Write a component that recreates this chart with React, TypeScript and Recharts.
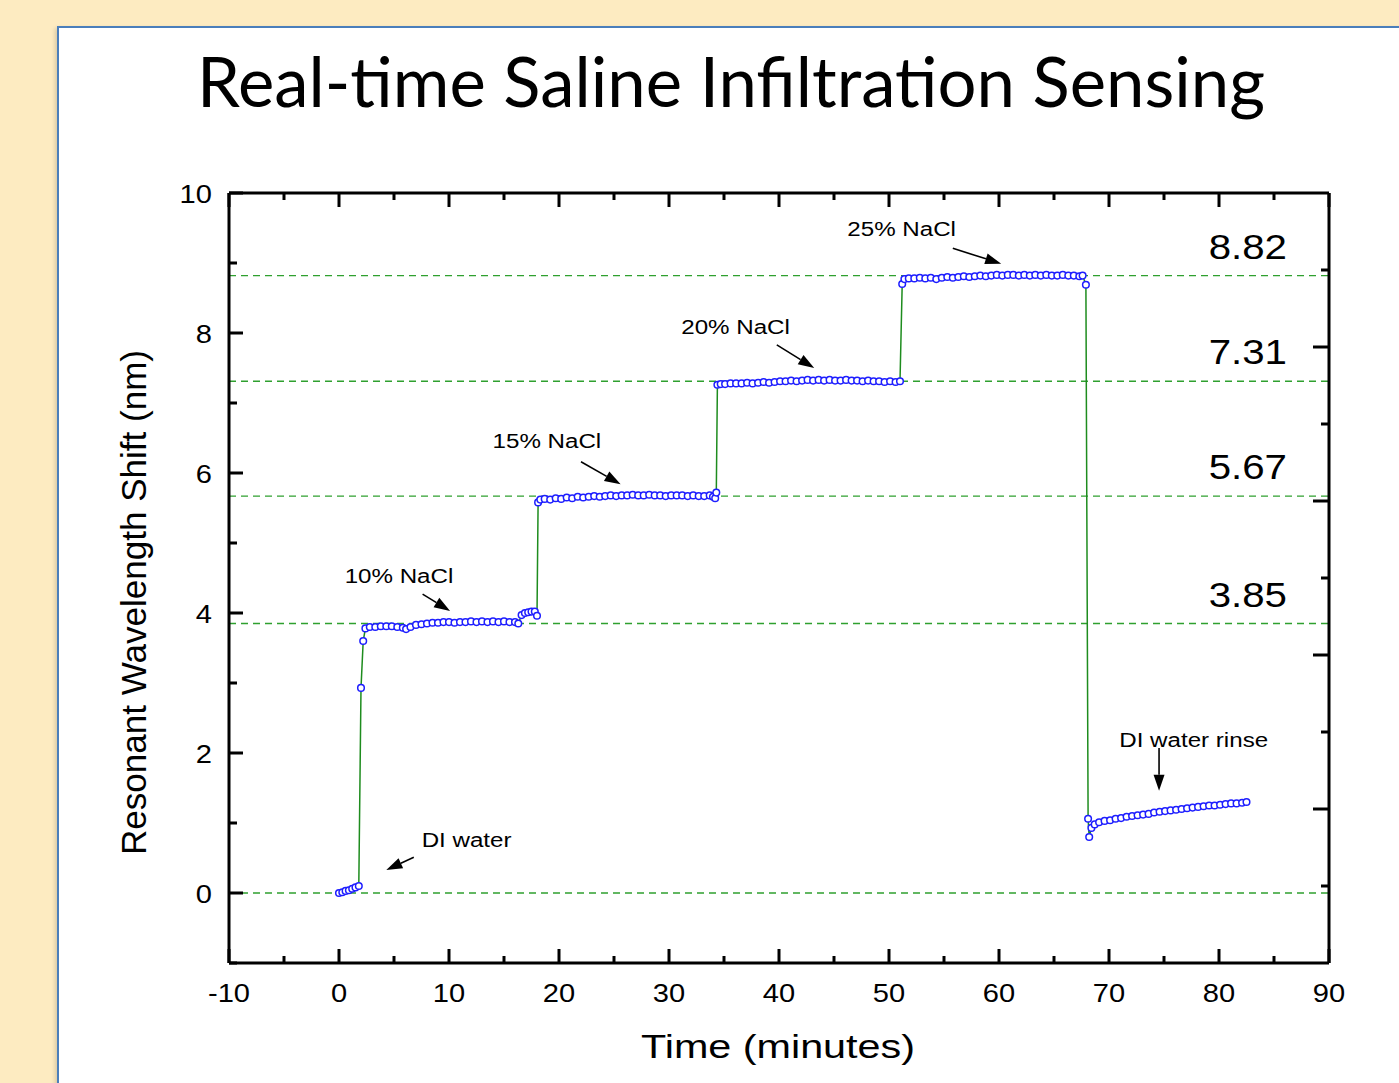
import { ComposedChart, Line, XAxis, YAxis, ReferenceLine, ReferenceDot } from "recharts";

// [time (min), shift (nm)]
const diWater: [number, number][] = [
  [0, 0.0], [0.3, 0.01], [0.6, 0.03], [0.9, 0.04], [1.2, 0.06], [1.5, 0.08], [1.8, 0.1],
];

const nacl10: [number, number][] = [
  [2.0, 2.93], [2.2, 3.6], [2.4, 3.78], [2.8, 3.8], [3.3, 3.8], [3.8, 3.81], [4.3, 3.81],
  [4.8, 3.81], [5.3, 3.8], [5.8, 3.79], [6.1, 3.77], [6.5, 3.8], [7.0, 3.83], [7.5, 3.84],
  [8.0, 3.85], [8.5, 3.86], [9.0, 3.86], [9.5, 3.87], [10.0, 3.87], [10.5, 3.86], [11.0, 3.87],
  [11.5, 3.87], [12.0, 3.88], [12.5, 3.87], [13.0, 3.88], [13.5, 3.87], [14.0, 3.88],
  [14.5, 3.87], [15.0, 3.88], [15.5, 3.87], [16.0, 3.87], [16.3, 3.85], [16.6, 3.97],
  [16.9, 4.0], [17.2, 4.01], [17.5, 4.02], [17.8, 4.02], [18.0, 3.96],
];

const nacl15: [number, number][] = [
  [18.1, 5.58], [18.3, 5.62], [18.7, 5.63], [19.2, 5.62], [19.7, 5.64], [20.2, 5.63],
  [20.7, 5.65], [21.2, 5.64], [21.7, 5.66], [22.2, 5.65], [22.7, 5.66], [23.2, 5.67],
  [23.7, 5.66], [24.2, 5.67], [24.7, 5.68], [25.2, 5.67], [25.7, 5.68], [26.2, 5.68],
  [26.7, 5.69], [27.2, 5.68], [27.7, 5.68], [28.2, 5.69], [28.7, 5.68], [29.2, 5.68],
  [29.7, 5.67], [30.2, 5.68], [30.7, 5.68], [31.2, 5.68], [31.7, 5.67], [32.2, 5.68],
  [32.7, 5.67], [33.2, 5.67], [33.7, 5.68], [34.0, 5.66], [34.2, 5.64], [34.3, 5.72],
];

const nacl20: [number, number][] = [
  [34.4, 7.26], [34.7, 7.27], [35.1, 7.27], [35.6, 7.28], [36.1, 7.28], [36.6, 7.28],
  [37.1, 7.29], [37.6, 7.28], [38.1, 7.29], [38.6, 7.3], [39.1, 7.29], [39.6, 7.3],
  [40.1, 7.31], [40.6, 7.31], [41.1, 7.32], [41.6, 7.31], [42.1, 7.32], [42.6, 7.33],
  [43.1, 7.32], [43.6, 7.33], [44.1, 7.32], [44.6, 7.33], [45.1, 7.32], [45.6, 7.32],
  [46.1, 7.33], [46.6, 7.32], [47.1, 7.32], [47.6, 7.31], [48.1, 7.32], [48.6, 7.31],
  [49.1, 7.31], [49.6, 7.3], [50.1, 7.31], [50.6, 7.3], [51.0, 7.31],
];

const nacl25: [number, number][] = [
  [51.2, 8.7], [51.4, 8.77], [51.8, 8.78], [52.3, 8.78], [52.8, 8.79], [53.3, 8.78],
  [53.8, 8.79], [54.3, 8.77], [54.8, 8.79], [55.3, 8.8], [55.8, 8.79], [56.3, 8.8],
  [56.8, 8.81], [57.3, 8.8], [57.8, 8.81], [58.3, 8.82], [58.8, 8.81], [59.3, 8.82],
  [59.8, 8.83], [60.3, 8.82], [60.8, 8.83], [61.3, 8.83], [61.8, 8.82], [62.3, 8.83],
  [62.8, 8.82], [63.3, 8.83], [63.8, 8.82], [64.3, 8.83], [64.8, 8.82], [65.3, 8.82],
  [65.8, 8.83], [66.3, 8.82], [66.8, 8.82], [67.3, 8.81], [67.6, 8.82], [67.9, 8.69],
];

const rinse: [number, number][] = [
  [68.1, 1.06], [68.2, 0.8], [68.4, 0.93], [68.7, 0.98], [69.1, 1.01], [69.6, 1.03],
  [70.1, 1.04], [70.6, 1.06], [71.1, 1.07], [71.6, 1.09], [72.1, 1.1], [72.6, 1.11],
  [73.1, 1.12], [73.6, 1.13], [74.1, 1.15], [74.6, 1.16], [75.1, 1.17], [75.6, 1.18],
  [76.1, 1.19], [76.6, 1.2], [77.1, 1.21], [77.6, 1.22], [78.1, 1.23], [78.6, 1.24],
  [79.1, 1.25], [79.6, 1.25], [80.1, 1.26], [80.6, 1.27], [81.1, 1.28], [81.6, 1.28],
  [82.1, 1.29], [82.5, 1.3],
];

const xTicks = [-10, -5, 0, 5, 10, 15, 20, 25, 30, 35, 40, 45, 50, 55, 60, 65, 70, 75, 80, 85, 90];
const yTicks = [-1, 0, 1, 2, 3, 4, 5, 6, 7, 8, 9, 10];
const rightTicks = [0.1, 1.2, 2.3, 3.4, 4.5, 5.6, 6.7, 7.8, 8.9];
const levels = [0, 3.85, 5.67, 7.31, 8.82];

// annotation: label centre and arrow tail -> head, in data units
const notes = [
  { text: "DI water", at: [11.6, 0.77], from: [6.8, 0.51], to: [4.3, 0.33] },
  { text: "10% NaCl", at: [5.45, 4.53], from: [7.6, 4.27], to: [10.1, 4.03] },
  { text: "15% NaCl", at: [18.9, 6.46], from: [22.0, 6.16], to: [25.6, 5.84] },
  { text: "20% NaCl", at: [36.05, 8.09], from: [39.8, 7.83], to: [43.2, 7.5] },
  { text: "25% NaCl", at: [51.15, 9.5], from: [55.8, 9.21], to: [60.2, 8.99] },
  { text: "DI water rinse", at: [77.7, 2.2], from: [74.55, 2.07], to: [74.55, 1.46] },
];

const data = [...diWater, ...nacl10, ...nacl15, ...nacl20, ...nacl25, ...rinse].map(([t, shift]) => ({ t, shift }));

const FONT = "'Liberation Sans', Arial, sans-serif";

const BottomTick = ({ x, y, payload }: any) => {
  const major = payload.value % 10 === 0;
  return (
    <g>
      <line x1={x} y1={y} x2={x} y2={y - (major ? 14 : 7)} stroke="#000" strokeWidth={3} />
      {major && (
        <text transform={`translate(${x} ${y + 39}) scale(1.12 1)`} textAnchor="middle" fontSize={26} fontFamily={FONT} fill="#000">
          {payload.value}
        </text>
      )}
    </g>
  );
};

const TopTick = ({ x, y, payload }: any) => {
  const major = payload.value % 10 === 0;
  return <line x1={x} y1={y} x2={x} y2={y + (major ? 14 : 7)} stroke="#000" strokeWidth={3} />;
};

const LeftTick = ({ x, y, payload }: any) => {
  const major = payload.value % 2 === 0;
  return (
    <g>
      <line x1={x} y1={y} x2={x + (major ? 14 : 8)} y2={y} stroke="#000" strokeWidth={3} />
      {major && payload.value >= 0 && (
        <text transform={`translate(${x - 17} ${y + 9.5}) scale(1.12 1)`} textAnchor="end" fontSize={26} fontFamily={FONT} fill="#000">
          {payload.value}
        </text>
      )}
    </g>
  );
};

const RightTick = ({ x, y, index }: any) => {
  const long = index % 2 === 1;
  return <line x1={x} y1={y} x2={x - (long ? 16 : 8)} y2={y} stroke="#000" strokeWidth={3} />;
};

const Arrow = (p: any) => {
  const { x1, y1, x2, y2 } = p;
  const a = Math.atan2(y2 - y1, x2 - x1);
  const L = 16;
  const W = 5.5;
  const bx = x2 - L * Math.cos(a);
  const by = y2 - L * Math.sin(a);
  const pts = `${x2},${y2} ${bx + W * Math.sin(a)},${by - W * Math.cos(a)} ${bx - W * Math.sin(a)},${by + W * Math.cos(a)}`;
  return (
    <g>
      <line x1={x1} y1={y1} x2={bx} y2={by} stroke="#000" strokeWidth={1.6} />
      <polygon points={pts} fill="#000" />
    </g>
  );
};

const LevelLabel = ({ viewBox, value }: any) => {
  if (!viewBox || value === 0) return null;
  return (
    <text
      transform={`translate(${viewBox.x + viewBox.width - 42} ${viewBox.y - 17}) scale(1.15 1)`}
      textAnchor="end"
      fontSize={35}
      fontFamily={FONT}
      fill="#000"
    >
      {value.toFixed(2)}
    </text>
  );
};

export default function App() {
  return (
    <div style={{ position: "absolute", left: 0, top: 0, width: 1399, height: 1083, background: "#FDEBC1", overflow: "hidden" }}>
      <div
        style={{
          position: "absolute",
          left: 57,
          top: 26,
          width: 1400,
          height: 1100,
          background: "#fff",
          border: "2px solid #4A7EBB",
          boxShadow: "-2px 2px 4px rgba(0,0,0,0.15)",
        }}
      />
      <svg width={1399} height={1083} style={{ position: "absolute", left: 0, top: 0 }}>
        <text x={197} y={107} fontSize={70} fontFamily="Lato, 'Open Sans', sans-serif" textLength={1068} lengthAdjust="spacingAndGlyphs" fill="#000">
          Real-time Saline Infiltration Sensing
        </text>
        <text
          transform="translate(146 603) rotate(-90)"
          x={-252}
          y={0}
          fontSize={35}
          fontFamily={FONT}
          textLength={505}
          lengthAdjust="spacingAndGlyphs"
          fill="#000"
        >
          Resonant Wavelength Shift (nm)
        </text>
        <text x={641} y={1058} fontSize={34} fontFamily={FONT} textLength={274} lengthAdjust="spacingAndGlyphs" fill="#000">
          Time (minutes)
        </text>
      </svg>
      <div style={{ position: "absolute", left: 0, top: 0 }}>
        <ComposedChart width={1399} height={1083} data={data} margin={{ top: 173, right: 50, bottom: 60, left: 169 }}>
          <XAxis
            xAxisId="b"
            dataKey="t"
            type="number"
            domain={[-10, 90]}
            ticks={xTicks}
            allowDataOverflow
            height={60}
            tickSize={0}
            tickMargin={0}
            axisLine={{ stroke: "#000", strokeWidth: 3 }}
            tickLine={false}
            tick={<BottomTick />}
            interval={0}
          />
          <XAxis
            xAxisId="top"
            orientation="top"
            dataKey="t"
            type="number"
            domain={[-10, 90]}
            ticks={xTicks}
            allowDataOverflow
            height={20}
            tickSize={0}
            tickMargin={0}
            axisLine={{ stroke: "#000", strokeWidth: 3 }}
            tickLine={false}
            tick={<TopTick />}
            interval={0}
          />
          <YAxis
            yAxisId="l"
            type="number"
            domain={[-1, 10]}
            ticks={yTicks}
            allowDataOverflow
            width={60}
            tickSize={0}
            tickMargin={0}
            axisLine={{ stroke: "#000", strokeWidth: 3 }}
            tickLine={false}
            tick={<LeftTick />}
            interval={0}
          />
          <YAxis
            yAxisId="r"
            orientation="right"
            type="number"
            domain={[-1, 10]}
            ticks={rightTicks}
            allowDataOverflow
            width={20}
            tickSize={0}
            tickMargin={0}
            axisLine={{ stroke: "#000", strokeWidth: 3 }}
            tickLine={false}
            tick={<RightTick />}
            interval={0}
          />
          {levels.map((v) => (
            <ReferenceLine
              key={v}
              xAxisId="b"
              yAxisId="l"
              y={v}
              stroke="#2FA02F"
              strokeWidth={1.4}
              strokeDasharray="7 5"
              label={<LevelLabel value={v} />}
            />
          ))}
          <Line
            xAxisId="b"
            yAxisId="l"
            type="linear"
            dataKey="shift"
            stroke="#1E8C1E"
            strokeWidth={1.5}
            dot={{ r: 3.3, stroke: "#1E1EFF", strokeWidth: 1.5, fill: "#fff" }}
            activeDot={false}
            isAnimationActive={false}
          />
          {notes.map((n) => (
            <ReferenceLine
              key={n.text + "-arrow"}
              xAxisId="b"
              yAxisId="l"
              segment={[
                { x: n.from[0], y: n.from[1] },
                { x: n.to[0], y: n.to[1] },
              ]}
              shape={Arrow}
            />
          ))}
          {notes.map((n) => (
            <ReferenceDot
              key={n.text}
              xAxisId="b"
              yAxisId="l"
              x={n.at[0]}
              y={n.at[1]}
              r={0}
              shape={(p: any) => (
                <text transform={`translate(${p.cx} ${p.cy + 7.5}) scale(1.15 1)`} textAnchor="middle" fontSize={21} fontFamily={FONT} fill="#000">
                  {n.text}
                </text>
              )}
            />
          ))}
        </ComposedChart>
      </div>
    </div>
  );
}
